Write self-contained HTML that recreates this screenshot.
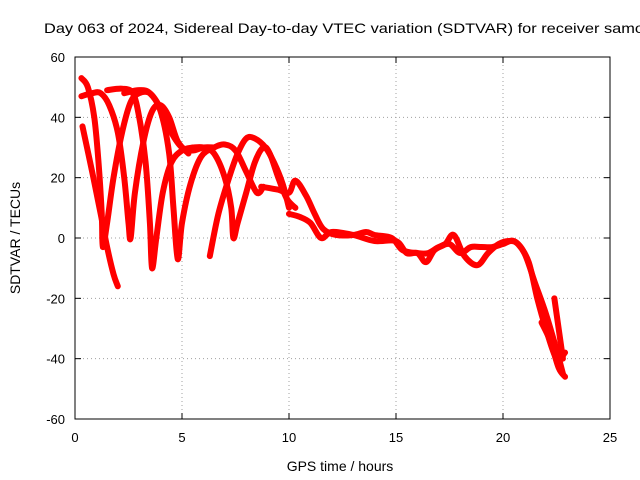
<!DOCTYPE html>
<html><head><meta charset="utf-8"><style>
body{margin:0;background:#fff;overflow:hidden;}
svg{display:block;font-family:"Liberation Sans",sans-serif;}
</style></head><body>
<svg id="chart" width="640" height="480">
<text x="44" y="33" font-size="14" textLength="600" lengthAdjust="spacingAndGlyphs">Day 063 of 2024, Sidereal Day-to-day VTEC variation (SDTVAR) for receiver samo</text>
<g id="grid"></g>
<g id="series"></g>
<rect x="75" y="57" width="535" height="362" fill="none" stroke="#000" stroke-width="1"/>
<g id="ticks"></g>
<text x="340" y="471" font-size="14" text-anchor="middle">GPS time / hours</text>
<text x="20" y="238" font-size="14" text-anchor="middle" transform="rotate(-90 20 238)">SDTVAR / TECUs</text>
</svg>
<script>
const xTicks=[0,5,10,15,20,25];
const yTicks=[60,40,20,0,-20,-40,-60];
const arcA=[[0.3,53],[0.6,50],[0.9,40],[1.1,25],[1.25,8],[1.3,-3],[1.5,5],[1.8,20],[2.2,35],[2.6,45],[3.0,48],[3.5,48],[4.0,43],[4.5,35],[5.0,30],[5.5,29],[6.0,30],[6.5,30]];
const arcB=[[0.3,47],[0.8,48],[1.2,48],[1.6,44],[2.0,35],[2.3,20],[2.5,5],[2.6,0],[2.8,15],[3.2,32],[3.6,42],[4.0,44],[4.4,40],[4.8,32],[5.3,28]];
const arcC=[[1.5,49],[2.2,49.5],[2.7,48],[3.0,40],[3.3,25],[3.5,5],[3.6,-10],[3.8,0],[4.1,15],[4.5,25],[5,29],[5.5,30]];
const arcD=[[2.3,48],[3.0,49],[3.5,48],[4.0,42],[4.4,28],[4.6,10],[4.8,-7],[5.0,5],[5.4,18],[5.9,27],[6.5,30],[7,31],[7.5,29],[8,22],[8.5,15],[8.8,17]];
const arcE=[[6.3,-6],[6.7,8],[7.2,20],[7.6,28],[8.0,33],[8.4,33],[8.9,30],[9.3,25],[9.7,18],[10,10]];
const arcF=[[5.5,30],[6,30],[6.5,28],[7,20],[7.3,10],[7.4,0],[7.6,5],[8.0,15],[8.4,25],[8.8,30],[9.1,28],[9.5,20],[9.9,13],[10.3,10]];
const arcG=[[8.7,17],[9.5,16],[10,15],[10.3,19],[10.8,14],[11.2,8],[11.6,3],[12.2,1],[13,1],[13.6,2],[14,1],[14.8,0],[15.3,-4],[16,-5],[16.5,-5],[17,-3],[17.5,-2],[18,-5],[18.5,-3],[19,-3],[19.5,-3],[20,-2],[20.5,-1],[21,-5],[21.5,-15],[22,-25],[22.5,-37],[22.8,-45]];
const arcH=[[10,8],[10.5,7],[11,5],[11.5,0],[12,2],[13,1],[14,-1],[15,-1],[15.5,-5],[16,-5],[16.4,-8],[16.8,-4],[17.3,-2],[17.7,1],[18.2,-6],[18.8,-9],[19.3,-5],[19.8,-2],[20.3,-1],[20.7,-2],[21.2,-8],[21.6,-20],[22,-30],[22.5,-40],[22.9,-38]];
const arcI=[[21.8,-28],[22.2,-34],[22.6,-43],[22.9,-46]];
const arcJ=[[22.4,-20],[22.6,-30],[22.8,-40]];
const arcK=[[0.35,37],[0.8,22],[1.2,8],[1.5,-3],[1.8,-12],[2.0,-16]];
const allArcs=[arcA,arcB,arcC,arcD,arcE,arcF,arcG,arcH,arcI,arcJ,arcK];
const X0=75,X1=610,Y0=419,Y1=57;
const sx=v=>X0+(v-0)/25*(X1-X0);
const sy=v=>Y0-(v+60)/120*(Y0-Y1);
const NS="http://www.w3.org/2000/svg";
const grid=document.getElementById('grid'),ticks=document.getElementById('ticks'),ser=document.getElementById('series');
function mk(tag,attrs,parent){const e=document.createElementNS(NS,tag);for(const k in attrs)e.setAttribute(k,attrs[k]);parent.appendChild(e);return e;}
function smooth(pts){
 let d='M'+pts[0][0]+','+pts[0][1];
 for(let i=0;i<pts.length-1;i++){
  const p0=pts[i-1]||pts[i],p1=pts[i],p2=pts[i+1],p3=pts[i+2]||p2;
  const c1=[p1[0]+(p2[0]-p0[0])/6,p1[1]+(p2[1]-p0[1])/6];
  const c2=[p2[0]-(p3[0]-p1[0])/6,p2[1]-(p3[1]-p1[1])/6];
  d+=' C'+c1[0]+','+c1[1]+' '+c2[0]+','+c2[1]+' '+p2[0]+','+p2[1];
 }
 return d;
}
xTicks.forEach(t=>{
 const x=sx(t);
 if(t>0&&t<25){const g=mk('line',{x1:x,x2:x,y1:Y1,y2:Y0,stroke:'#a0a0a0','stroke-dasharray':'1,3'},grid);
 
 }
 mk('line',{x1:x,x2:x,y1:Y0,y2:Y0-6,stroke:'#000'},ticks);
 mk('line',{x1:x,x2:x,y1:Y1,y2:Y1+6,stroke:'#000'},ticks);
 const l=mk('text',{x:x,y:Y0+23,'font-size':13,'text-anchor':'middle'},ticks);l.textContent=t;
 
 
});
yTicks.forEach(t=>{
 const y=sy(t);
 if(t>-60&&t<60){const g=mk('line',{x1:X0,x2:X1,y1:y,y2:y,stroke:'#a0a0a0','stroke-dasharray':'1,3'},grid);
 
 }
 mk('line',{x1:X0,x2:X0+6,y1:y,y2:y,stroke:'#000'},ticks);
 mk('line',{x1:X1,x2:X1-6,y1:y,y2:y,stroke:'#000'},ticks);
 const l=mk('text',{x:X0-10,y:y+5,'font-size':13,'text-anchor':'end'},ticks);l.textContent=t;
 
 
});
allArcs.forEach(arc=>{
 const pts=arc.map(d=>[sx(d[0]),sy(d[1])]);
 const p=mk('path',{d:smooth(pts),fill:'none',stroke:'#ff0000','stroke-width':6,'stroke-linejoin':'round','stroke-linecap':'round'},ser);
 
 
});
</script>
</body></html>
